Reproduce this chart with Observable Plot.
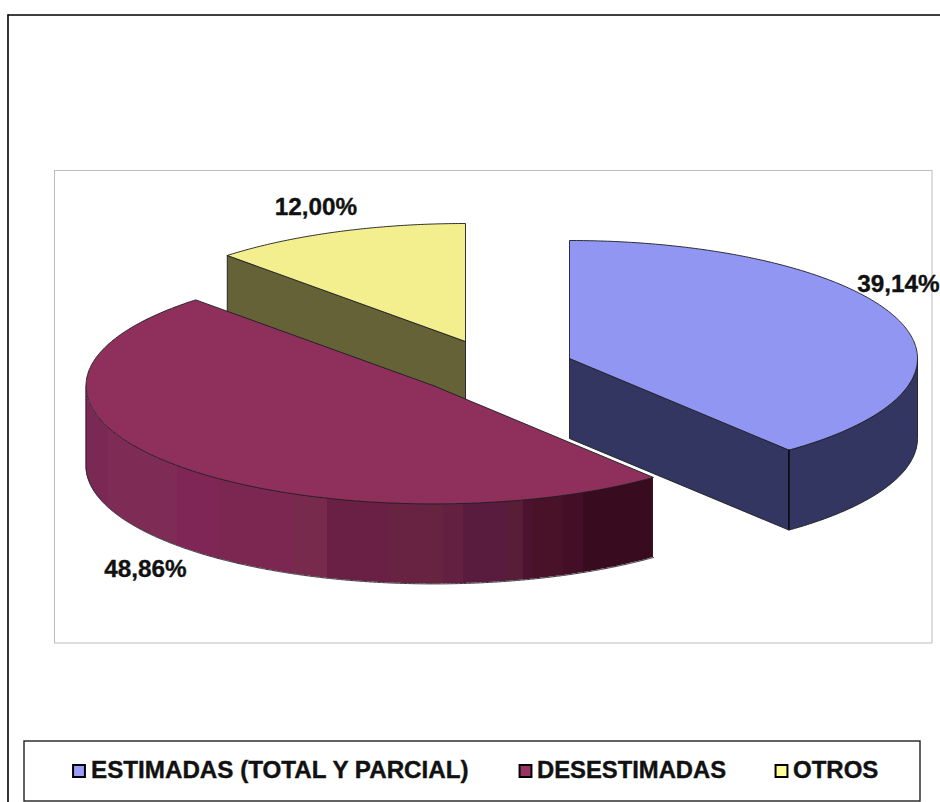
<!DOCTYPE html>
<html>
<head>
<meta charset="utf-8">
<script src="https://cdn.jsdelivr.net/npm/d3@7"></script>
<script src="https://cdn.jsdelivr.net/npm/@observablehq/plot@0.6"></script>
<style>
html,body{margin:0;padding:0;background:#fff;overflow:hidden}
svg{display:block}
</style>
</head>
<body>
<div id="chart"></div>
<script>
// ---- data ----
const categories = ["ESTIMADAS (TOTAL Y PARCIAL)", "DESESTIMADAS", "OTROS"];
const shares = [39.14, 48.86, 12.00];
const shareLabels = ["39,14%", "48,86%", "12,00%"];

// ---- styling / layout ----
const topColors = ["#9096f2", "#8f2f5b", "#f3ef8f"];
const wallColors = ["#333660", "#6a2045", "#646236"];
const swatchColors = ["#9a9cf8", "#993366", "#ffff99"];
const centerX = [569, 433.5, 465];
const centerY = [358, 385.4, 341];
const labelX = [898, 145, 315.5];
const labelY = [284, 569, 207];
const legendSwatchX = [78.5, 525, 781];
const legendTextX = [90.5, 536.5, 792.5];
const legendFontSizes = [24.2, 23.8, 24];
const radiusX = 348, radiusY = 118, depth = 80;
const wallBandEdges = [85, 108, 177, 218, 293, 327, 390, 430, 443, 463, 507, 523, 533, 563, 583, 653.5];
const wallBandColors = ["#7a2854", "#7e2c56", "#802656", "#7c2752", "#782a4c", "#6a2044", "#682242", "#662440", "#642040", "#5a1c3e", "#581d37", "#4c1230", "#4a1228", "#430e26", "#380c1e"];

// ---- geometry from the shares: angles run clockwise from the top ----
const arcs = d3.pie().sort(null).value(d => d)(shares);
const pt = (i, a, dy = 0) => ({x: centerX[i] + radiusX * Math.sin(a), y: centerY[i] - radiusY * Math.cos(a) + dy});
function arcPts(i, a0, a1, dy = 0) {
  const n = Math.max(2, Math.ceil(Math.abs(a1 - a0) / 0.01));
  return d3.range(n + 1).map(k => pt(i, a0 + (a1 - a0) * k / n, dy));
}
const topPoly = i => {
  const c = {x: centerX[i], y: centerY[i]};
  return [c, ...arcPts(i, arcs[i].startAngle, arcs[i].endAngle), c];
};
const edge = "#1c1c22";
const poly = (data, fill, stroke = edge, sw = 0.9) =>
  Plot.line(data, {x: "x", y: "y", fill, stroke, strokeWidth: sw, curve: "linear"});

const marks = [];
// outer frame
marks.push(Plot.ruleX([7.5], {y1: 14.5, y2: 802, stroke: "#000", strokeWidth: 1.6}));
marks.push(Plot.ruleY([14.5], {x1: 7.5, x2: 940, stroke: "#000", strokeWidth: 1.6}));
// plot area
marks.push(Plot.rect([{x1: 54.5, x2: 932, y1: 170.5, y2: 643}], {x1: "x1", x2: "x2", y1: "y1", y2: "y2", fill: "none", stroke: "#bdbdbd", strokeWidth: 1}));

// OTROS (yellow): wall then top
{
  const i = 2, a0 = arcs[i].startAngle;
  const p0 = pt(i, a0), c = {x: centerX[i], y: centerY[i]};
  marks.push(poly([p0, c, {x: c.x, y: c.y + depth}, {x: p0.x, y: p0.y + depth}, p0], wallColors[i]));
  marks.push(poly(topPoly(i), topColors[i]));
}
// ESTIMADAS (blue): cut wall, outer wall, top
{
  const i = 0, a1 = arcs[i].endAngle;
  const c = {x: centerX[i], y: centerY[i]}, p1 = pt(i, a1);
  marks.push(poly([c, p1, {x: p1.x, y: p1.y + depth}, {x: c.x, y: c.y + depth}, c], wallColors[i]));
  const top = arcPts(i, Math.PI / 2, a1);
  const bot = arcPts(i, a1, Math.PI / 2, depth);
  marks.push(poly([...top, ...bot, top[0]], wallColors[i]));
  marks.push(poly(topPoly(i), topColors[i]));
  marks.push(Plot.ruleX([p1.x], {y1: p1.y, y2: p1.y + depth, stroke: "#000", strokeWidth: 1.1}));
}
// DESESTIMADAS (maroon): banded outer wall, then top
{
  const i = 1, a0 = arcs[i].startAngle;
  const fine = d3.range(0, 601).map(k => a0 + (1.5 * Math.PI - a0) * k / 600);
  const yTop = x => centerY[i] + radiusY * Math.sqrt(Math.max(0, 1 - ((x - centerX[i]) / radiusX) ** 2));
  wallBandColors.forEach((col, b) => {
    const l = wallBandEdges[b], r = wallBandEdges[b + 1] + 0.6;
    const lo = Math.max(l, centerX[i] - radiusX), hi = Math.min(r, pt(i, a0).x);
    const xs = [lo, ...fine.map(a => pt(i, a).x).filter(x => x > lo && x < hi).sort(d3.ascending), hi];
    marks.push(Plot.areaY(xs.map(x => ({x, y1: yTop(x), y2: yTop(x) + depth})), {x: "x", y1: "y1", y2: "y2", fill: col}));
  });
  marks.push(poly(fine.map(a => pt(i, a, depth)), "none", edge, 0.9));
  marks.push(Plot.ruleX([centerX[i] - radiusX], {y1: centerY[i], y2: centerY[i] + depth, stroke: "#3a1028", strokeWidth: 0.8}));
  marks.push(poly(topPoly(i), topColors[i]));
}
// slice value labels
marks.push(Plot.text(shareLabels, {
  x: (d, k) => labelX[k], y: (d, k) => labelY[k], text: d => d,
  fontFamily: "Liberation Sans", fontWeight: "bold", fontSize: 24.3, fill: "#111", stroke: "#111", strokeWidth: 0.35, textAnchor: "middle", lineAnchor: "middle"
}));
// legend
marks.push(Plot.rect([{x1: 24, x2: 920, y1: 741, y2: 801}], {x1: "x1", x2: "x2", y1: "y1", y2: "y2", fill: "#fff", stroke: "#222", strokeWidth: 1.4}));
marks.push(Plot.dot(categories, {
  x: (d, k) => legendSwatchX[k], y: () => 770.5, symbol: "square", r: 6.7,
  fill: (d, k) => swatchColors[k], stroke: "#000", strokeWidth: 2
}));
marks.push(Plot.text(categories, {
  x: (d, k) => legendTextX[k], y: () => 769.5, text: d => d,
  fontFamily: "Liberation Sans", fontWeight: "bold", fontSize: (d, k) => legendFontSizes[k], fill: "#111", stroke: "#111", strokeWidth: 0.4, textAnchor: "start", lineAnchor: "middle"
}));

const chart = Plot.plot({
  width: 940, height: 802,
  margin: 0,
  x: {domain: [0, 940], range: [0, 940], axis: null},
  y: {domain: [0, 802], range: [0, 802], axis: null},
  color: {type: "identity"},
  style: {background: "#fff"},
  marks
});
document.getElementById("chart").appendChild(chart);
</script>
</body>
</html>
